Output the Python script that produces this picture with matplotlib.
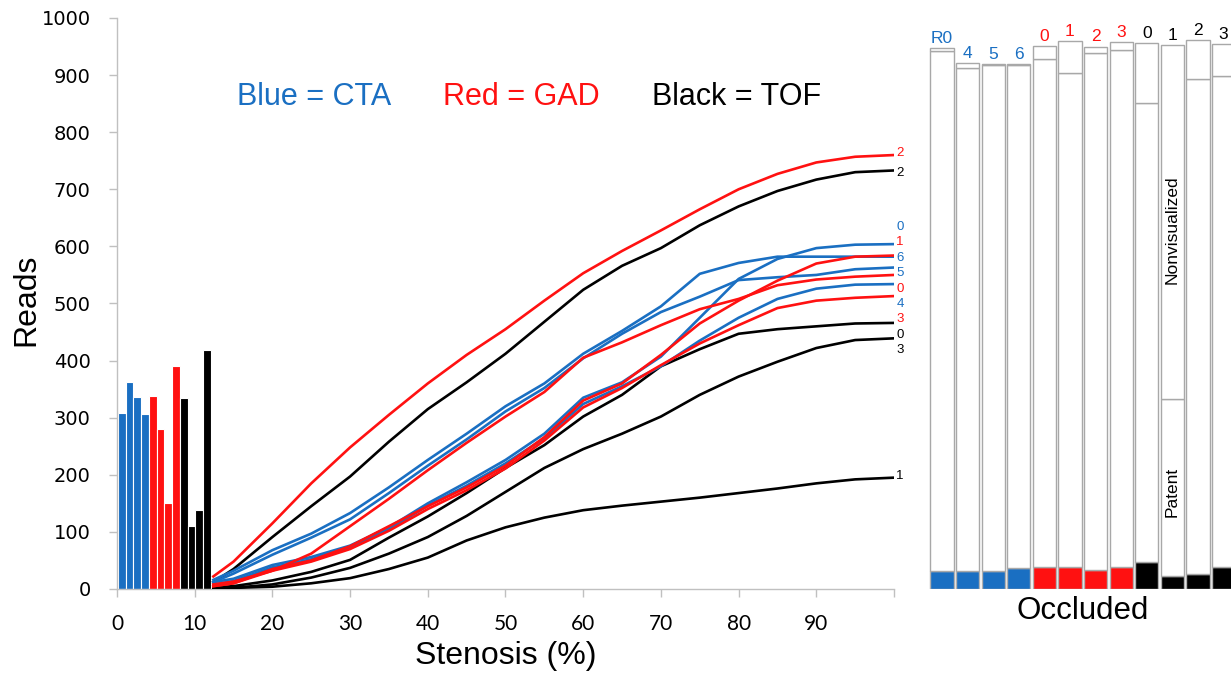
import matplotlib
matplotlib.use('Agg')
import matplotlib.pyplot as plt
import numpy as np

# ---------------- data ----------------
BLUE = '#1a6fc2'
RED = '#ff1111'
BLACK = '#000000'

# left bar group (reads)
bar_values = [309, 362, 336, 306, 338, 280, 151, 390, 334, 111, 138, 419]
bar_colors = [BLUE] * 4 + [RED] * 4 + [BLACK] * 4

# stenosis curves
stenosis = [12.4, 15, 20, 25, 30, 35, 40, 45, 50, 55, 60, 65, 70, 75, 80, 85, 90, 95, 100]
gad2 = [22, 48, 115, 185, 248, 305, 360, 410, 455, 505, 553, 592, 628, 665, 700, 727, 747, 757, 760]
tof2 = [12, 35, 91, 145, 197, 258, 315, 362, 412, 468, 524, 566, 597, 637, 670, 697, 717, 730, 733]
cta6 = [16, 32, 68, 97, 133, 178, 226, 272, 320, 360, 412, 452, 495, 552, 571, 582, 582, 582, 582]
cta5 = [12, 27, 60, 90, 122, 168, 216, 262, 311, 352, 404, 447, 485, 512, 541, 546, 550, 560, 563]
gad0 = [8, 13, 32, 62, 110, 158, 208, 256, 302, 345, 405, 432, 462, 490, 508, 532, 542, 547, 550]
ctaR0 = [12, 18, 42, 56, 76, 108, 150, 187, 226, 272, 335, 362, 407, 475, 543, 578, 597, 603, 604]
cta4 = [8, 14, 38, 52, 73, 104, 146, 181, 220, 264, 324, 355, 390, 435, 475, 508, 526, 533, 534]
gad1 = [5, 10, 35, 50, 75, 110, 145, 178, 216, 266, 330, 360, 410, 465, 505, 540, 570, 582, 584]
gad3 = [5, 10, 32, 48, 70, 102, 140, 173, 211, 260, 318, 352, 392, 430, 462, 492, 505, 510, 513]
tof0 = [3, 5, 15, 30, 51, 90, 127, 168, 212, 252, 302, 340, 390, 420, 447, 455, 460, 465, 466]
tof3 = [1, 2, 8, 20, 37, 62, 91, 128, 170, 212, 245, 272, 302, 340, 372, 398, 422, 436, 439]
tof1 = [2, 2, 4, 10, 19, 35, 55, 85, 108, 125, 138, 146, 153, 160, 168, 176, 185, 192, 195]

curves = [
    (tof1, BLACK), (tof3, BLACK), (tof0, BLACK), (tof2, BLACK),
    (cta4, BLUE), (ctaR0, BLUE), (cta5, BLUE), (cta6, BLUE),
    (gad3, RED), (gad1, RED), (gad0, RED), (gad2, RED),
]

# end labels: text, value position, colour
end_labels = ['2', '2', '0', '1', '6', '5', '0', '4', '3', '0', '3', '1']
end_label_pos = [764, 728, 634, 607, 580, 553, 526, 499, 472, 445, 418, 198]
end_label_colors = [RED, BLACK, BLUE, RED, BLUE, BLUE, RED, BLUE, RED, BLACK, BLACK, BLACK]

xtick_vals = [0, 10, 20, 30, 40, 50, 60, 70, 80, 90, 100]
xtick_labels = ['0', '10', '20', '30', '40', '50', '60', '70', '80', '90', '']
ytick_vals = [0, 100, 200, 300, 400, 500, 600, 700, 800, 900, 1000]

# right panel stacked bars
rp_labels = ['R0', '4', '5', '6', '0', '1', '2', '3', '0', '1', '2', '3']
rp_colors = [BLUE] * 4 + [RED] * 4 + [BLACK] * 4
occluded = [32, 31, 32, 37, 38, 39, 33, 38, 48, 23, 27, 39]
patent_top = [943, 912, 917, 917, 928, 904, 938, 944, 852, 333, 893, 898]
totals = [947, 921, 919, 919, 951, 960, 950, 958, 956, 952, 961, 954]

# ---------------- figure ----------------
W, H = 1231, 675
fig = plt.figure(figsize=(W / 100, H / 100), dpi=100)
FONT = 'Liberation Sans'

ax = fig.add_axes([117 / W, (H - 589) / H, (894 - 117) / W, (589 - 18) / H])
ax.set_xlim(0, 100)
ax.set_ylim(0, 1000)

bx = np.arange(len(bar_values)) * 1.0 + 0.6
ax.bar(bx, bar_values, width=1.0, color=bar_colors, edgecolor='white', linewidth=0.8, zorder=2)

for vals, col in curves:
    ax.plot(stenosis, vals, color=col, lw=1.9, zorder=3, solid_joinstyle='round')

for t, v, c in zip(end_labels, end_label_pos, end_label_colors):
    ax.text(100.3, v, t, color=c, fontsize=9.5, family=FONT, ha='left', va='center')

for s in ['top', 'right']:
    ax.spines[s].set_visible(False)
for s in ['left', 'bottom']:
    ax.spines[s].set_color('#c0c0c0')
    ax.spines[s].set_linewidth(1.0)

ax.set_xticks(xtick_vals)
ax.set_xticklabels(xtick_labels, family='Lato', fontsize=15)
ax.set_yticks(ytick_vals)
ax.set_yticklabels([str(v) for v in ytick_vals], family='DejaVu Sans', fontsize=14)
ax.tick_params(axis='both', direction='out', length=6, width=1.0, color='#c0c0c0')
ax.tick_params(axis='x', pad=12)
ax.tick_params(axis='y', pad=13)

fig.text(26 / W, 1 - 300 / H, 'Reads', rotation=90, ha='center', va='center',
         fontsize=23, family=FONT)
fig.text(506 / W, 1 - 656 / H, 'Stenosis (%)', ha='center', va='center',
         fontsize=23, family=FONT)

fig.text(237 / W, 1 - 97 / H, 'Blue = CTA', color=BLUE, fontsize=22, family=FONT, va='center')
fig.text(443 / W, 1 - 97 / H, 'Red = GAD', color=RED, fontsize=22, family=FONT, va='center')
fig.text(652 / W, 1 - 97 / H, 'Black = TOF', color=BLACK, fontsize=22, family=FONT, va='center')

# ---------------- right panel ----------------
pitch = 25.6
c0 = 942.0
xl, xr = -0.55, 11.6
left_px = c0 + xl * pitch
right_px = c0 + xr * pitch
ax2 = fig.add_axes([left_px / W, (H - 589) / H, (right_px - left_px) / W, (589 - 18) / H])
ax2.set_xlim(xl, xr)
ax2.set_ylim(0, 1000)
ax2.axis('off')

rx = np.arange(len(rp_labels))
occ = np.array(occluded)
pt = np.array(patent_top)
tot = np.array(totals)
ax2.bar(rx, occ, width=0.91, color=rp_colors, edgecolor='#b0b0b0', linewidth=1.0)
ax2.bar(rx, pt - occ, bottom=occ, width=0.91, color='white', edgecolor='#a8a8a8', linewidth=1.0)
ax2.bar(rx, tot - pt, bottom=pt, width=0.91, color='white', edgecolor='#a8a8a8', linewidth=1.0)

for x, t, v, c in zip(rx, rp_labels, totals, rp_colors):
    ax2.text(x, v + 4, t, color=c, fontsize=12.5, family=FONT, ha='center', va='bottom')

ax2.text(9, 629, 'Nonvisualized', rotation=90, ha='center', va='center', fontsize=12.5, family=FONT)
ax2.text(9, 170, 'Patent', rotation=90, ha='center', va='center', fontsize=12.5, family=FONT)
fig.text(1083 / W, 1 - 611 / H, 'Occluded', ha='center', va='center', fontsize=22.5, family=FONT)

fig.savefig('out.png', dpi=100)
